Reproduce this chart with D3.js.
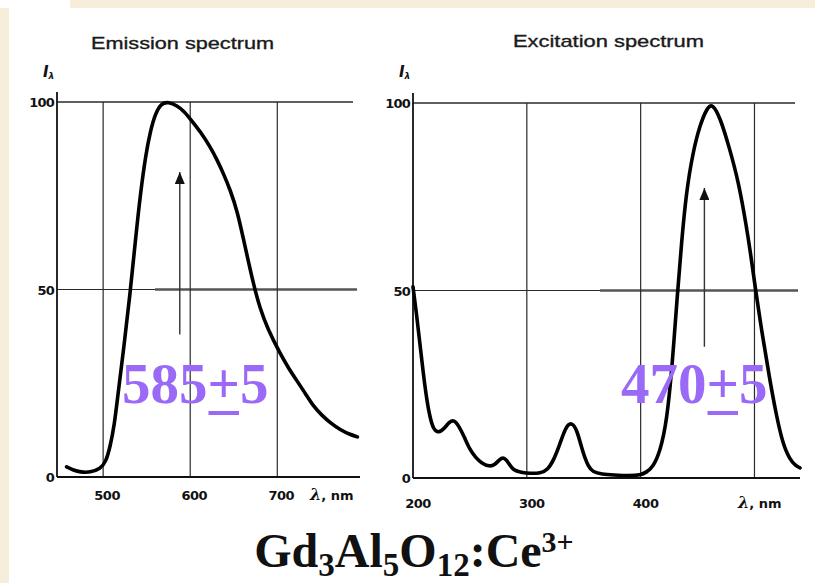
<!DOCTYPE html>
<html><head><meta charset="utf-8">
<script src="https://cdn.jsdelivr.net/npm/d3@7"></script>
<style>
html,body{margin:0;padding:0;background:#fff;}
svg{display:block;}
</style></head>
<body>
<svg id="chart" width="815" height="583"></svg>
<script>
// ---- data ----
const emissionWavelength = [458,466,474,485,497,503,508,513,517,524,531,537,543,549,554,560,567,575,585,593,600,612,623,631,638,646,654,663,672,680,689,703,713,723,733,741,751,761,773,784,792];
const emissionIntensity  = [2.7,1.8,1.3,1.2,2.2,4,8,14,22,35,49,63,76,86,92,97,99.7,100,99,97.5,95.5,92,88,84.5,81,76.5,71,61.5,52,45,39.5,33,29,25.5,22,19,16.5,14.4,12.5,11.3,10.7];
const excitationWavelength = [200,203,206,209,212,215,218,222,227,232,236,240,245,250,255,260,267,272,276,280,284,288,295,303,312,318,324,329,334,339,344,349,354,358,366,376,390,400,405,411,417,423,428,432,436,440,446,452,458,463,470,478,486,493,497,501,507,513,519,525,531,536,540];
const excitationIntensity  = [51,44,36,28,21,16,13,12,13,15,15.5,14,11,7.5,5.5,4,3,3.5,5,5.6,4,2,1.5,1.2,1.3,2,5,9,13.5,15,13,7,3,1.6,1,0.8,0.6,0.8,1.5,3,7,15,31,48,63,76,87,94,98.5,100,96,88,79,67,59,50,38,27,17,9,5,3.3,2.7];
const emissionXTicks = [500,600,700];
const excitationXTicks = [200,300,400];
const excitationXGrid = [300,400,500];
const yTicks = [0,50,100];
const titles = ["Emission spectrum","Excitation spectrum"];
const peakLabels = ["585","470"];
const peakArrowAt = [588,456];
const formula = [["Gd",""],["3","sub"],["Al",""],["5","sub"],["O",""],["12","sub"],[":Ce",""],["3+","sup"]];

const svg = d3.select("#chart");
const beige = "#f6eddb";
svg.append("rect").attr("x",70).attr("y",0).attr("width",745).attr("height",8).attr("fill",beige);
svg.append("rect").attr("x",0).attr("y",8).attr("width",9).attr("height",575).attr("fill",beige);

const purple = "#9a6af7";
const defs = svg.append("defs");
defs.append("marker").attr("id","ah").attr("viewBox","0 0 10 12").attr("refX",5).attr("refY",0)
  .attr("markerWidth",10).attr("markerHeight",12).attr("markerUnits","userSpaceOnUse").attr("orient","0")
  .append("path").attr("d","M0,12 L5,0 L10,12 Z").attr("fill","#111");

function panel(cfg){
  const g = svg.append("g");
  const x = d3.scaleLinear().domain(cfg.xDomain).range(cfg.xRange);
  const y = d3.scaleLinear().domain([0,100]).range([cfg.y0, cfg.y100]);
  const gridC = "#2a2a2a";
  g.append("line").attr("x1",cfg.xRange[0]).attr("x2",cfg.topEnd).attr("y1",y(100)).attr("y2",y(100)).attr("stroke",gridC).attr("stroke-width",1.3);
  g.append("line").attr("x1",cfg.xRange[0]).attr("x2",cfg.midEnd).attr("y1",y(50)).attr("y2",y(50)).attr("stroke",gridC).attr("stroke-width",1.2);
  g.append("line").attr("x1",cfg.thickStart).attr("x2",cfg.midEnd).attr("y1",y(50)).attr("y2",y(50)).attr("stroke","#555").attr("stroke-width",2.6);
  g.selectAll(".vg").data(cfg.grid).enter().append("line")
    .attr("x1",d=>x(d)).attr("x2",d=>x(d)).attr("y1",y(100)).attr("y2",y(0))
    .attr("stroke",gridC).attr("stroke-width",1.2);
  g.append("line").attr("x1",cfg.xRange[0]).attr("x2",cfg.xRange[0]).attr("y1",cfg.y100-10).attr("y2",y(0)).attr("stroke","#111").attr("stroke-width",1.8);
  g.append("line").attr("x1",cfg.xRange[0]).attr("x2",cfg.xRange[1]).attr("y1",y(0)).attr("y2",y(0)).attr("stroke","#111").attr("stroke-width",1.8);
  g.selectAll(".yl").data(yTicks).enter().append("text")
    .attr("x",cfg.xRange[0]-3).attr("y",d=>y(d)+5).attr("text-anchor","end")
    .attr("font-family","DejaVu Sans, sans-serif").attr("font-weight","bold").attr("font-size",13).attr("fill","#111")
    .attr("letter-spacing",-0.8).text(d=>d);
  g.selectAll(".xl").data(cfg.ticks).enter().append("text")
    .attr("x",d=>x(d)+cfg.tickDx).attr("y",cfg.tickY).attr("text-anchor","middle")
    .attr("font-family","DejaVu Sans, sans-serif").attr("font-weight","bold").attr("font-size",13).attr("fill","#111")
    .attr("letter-spacing",-0.5).text(d=>d);
  const ln = g.append("text").attr("x",cfg.lamX).attr("y",cfg.tickY)
    .attr("font-family","DejaVu Sans, sans-serif").attr("font-weight","bold").attr("font-size",13).attr("fill","#111");
  ln.append("tspan").attr("font-family","DejaVu Serif, serif").attr("font-style","italic").attr("font-size",16).text("λ");
  ln.append("tspan").text(", nm");
  const il = g.append("text").attr("x",cfg.xRange[0]-14).attr("y",77)
    .attr("font-family","DejaVu Sans, sans-serif").attr("font-weight","bold").attr("font-style","italic").attr("font-size",15).attr("fill","#111");
  il.append("tspan").text("I");
  il.append("tspan").attr("font-size",9).attr("dy",2).text("λ");
  g.append("text").attr("x",cfg.titleX).attr("y",cfg.titleY)
    .attr("font-family","Liberation Sans, Arial, sans-serif").attr("font-size",17).attr("fill","#1a1a1a")
    .attr("stroke","#1a1a1a").attr("stroke-width",0.35)
    .attr("textLength",cfg.titleW).attr("lengthAdjust","spacingAndGlyphs").text(cfg.title);
  const line = d3.line().x(d=>x(d[0])).y(d=>y(d[1])).curve(d3.curveBasis);
  g.append("path").datum(d3.zip(cfg.xs,cfg.ys)).attr("d",line).attr("fill","none")
    .attr("stroke","#000").attr("stroke-width",3.6).attr("stroke-linejoin","round").attr("stroke-linecap","round");
  g.append("line").attr("x1",x(cfg.arrowAt)).attr("x2",x(cfg.arrowAt)).attr("y1",y(cfg.arrowFrom)).attr("y2",y(cfg.arrowTo)+10)
    .attr("stroke","#333").attr("stroke-width",1.4).attr("marker-end","url(#ah)");
  const pl = g.append("text").attr("x",cfg.labX).attr("y",403)
    .attr("font-family","Liberation Serif, Times New Roman, serif").attr("font-weight","bold").attr("font-size",57).attr("fill",purple);
  pl.append("tspan").text(cfg.label);
  const plus = pl.append("tspan").text("+");
  pl.append("tspan").text("5");
  return {g, plus, y};
}

const p1 = panel({xDomain:[447,795], xRange:[57,360], y0:477, y100:102, topEnd:353, midEnd:357, thickStart:155,
  grid:emissionXTicks, ticks:emissionXTicks, tickDx:4, tickY:500, lamX:310, titleX:91, titleY:49, titleW:183,
  title:titles[0], xs:emissionWavelength, ys:emissionIntensity, arrowAt:peakArrowAt[0], arrowFrom:38, arrowTo:84,
  label:peakLabels[0], labX:122});
const p2 = panel({xDomain:[200,540], xRange:[413,800], y0:478, y100:103, topEnd:795, midEnd:798, thickStart:600,
  grid:excitationXGrid, ticks:excitationXTicks, tickDx:5, tickY:508, lamX:738, titleX:513, titleY:47, titleW:191,
  title:titles[1], xs:excitationWavelength, ys:excitationIntensity, arrowAt:peakArrowAt[1], arrowFrom:35, arrowTo:80,
  label:peakLabels[1], labX:621});

[p1,p2].forEach(p=>{
  const n = p.plus.node();
  const start = n.getStartPositionOfChar(0);
  const w = n.getComputedTextLength();
  p.g.append("rect").attr("x",start.x+1).attr("y",411).attr("width",w-2).attr("height",4).attr("fill",purple);
});

// formula
const ft = svg.append("text").attr("x",414).attr("y",567).attr("text-anchor","middle")
  .attr("font-family","Liberation Serif, Times New Roman, serif").attr("font-weight","bold").attr("font-size",48).attr("fill","#111");
formula.forEach(([t,k],i)=>{
  const ts = ft.append("tspan").text(t);
  const prev = i>0 ? formula[i-1][1] : "";
  if(k==="sub") ts.attr("font-size",33).attr("dy",9);
  else if(k==="sup") ts.attr("font-size",30).attr("dy",-15);
  else ts.attr("dy", prev==="sub" ? -9 : 0);
});
</script>
</body></html>
